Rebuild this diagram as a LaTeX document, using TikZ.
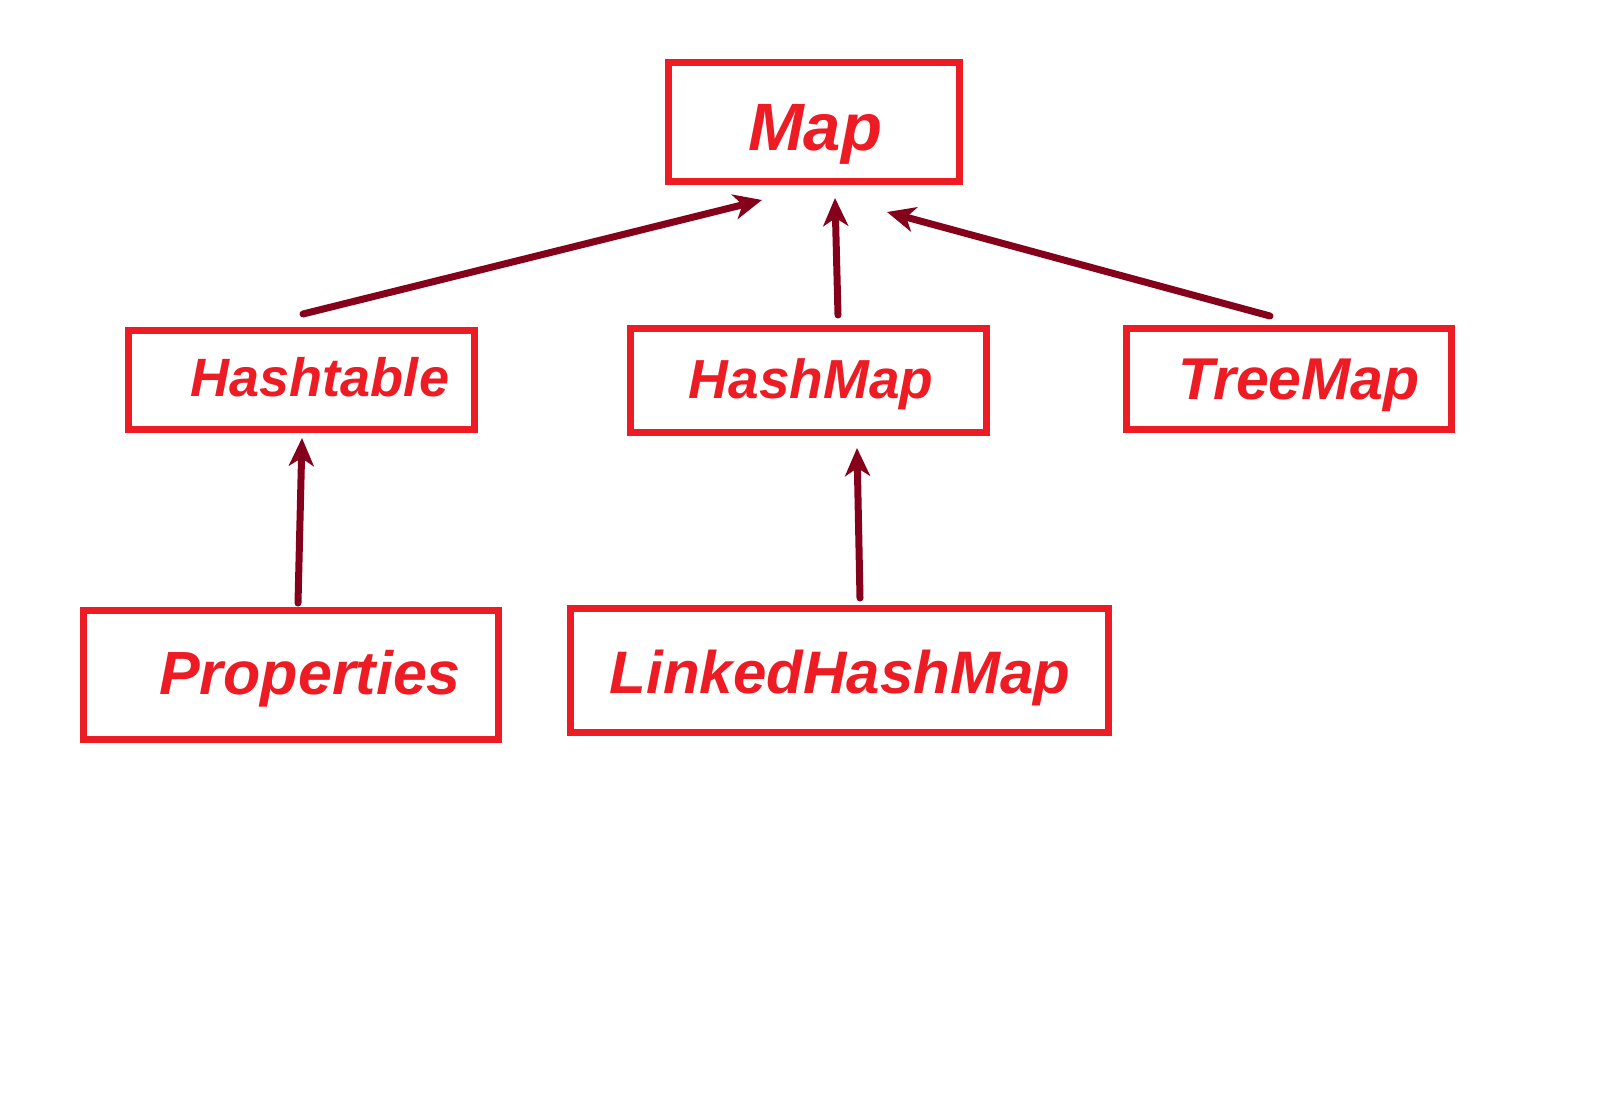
\documentclass[tikz,border=0pt]{standalone}
\usepackage{fontspec}
\setmainfont{Liberation Sans}
\usepackage{tikz}
\usetikzlibrary{arrows.meta}
\tikzset{>={Stealth[length=28pt,width=25pt,inset=8pt]}}
\definecolor{boxred}{HTML}{ED1C24}
\definecolor{arrowred}{HTML}{85001A}
\tikzset{
  cls/.style={draw=boxred, line width=7.5pt, outer sep=0pt, inner sep=0pt},
  clsname/.style={anchor=base, inner sep=0pt, text=boxred, font=\bfseries\itshape},
  inherit/.style={draw=arrowred, line width=7pt, line cap=round, ->},
}
\newcommand{\clstext}[2]{\fontsize{#1}{#1}\selectfont #2}

\begin{document}
\begin{tikzpicture}[x=1pt, y=-1pt]
    \useasboundingbox[fill=white] (0,0) rectangle (1620,1118);

    % class boxes
    \node[cls, minimum width=291pt, minimum height=119pt] (map) at (814,122) {};
    \node[cls, minimum width=346pt, minimum height=99pt] (hash) at (301.5,380) {};
    \node[cls, minimum width=356pt, minimum height=104pt] (hmap) at (808.5,380.5) {};
    \node[cls, minimum width=325pt, minimum height=101pt] (tmap) at (1289,379) {};
    \node[cls, minimum width=415pt, minimum height=129pt] (prop) at (291,675) {};
    \node[cls, minimum width=538pt, minimum height=124pt] (lhm) at (839.5,670.5) {};

    % class names
    \node[clsname] (map-t) at (815,151) {\clstext{67}{Map}};
    \node[clsname] (hash-t) at (320,396) {\clstext{54}{Hashtable}};
    \node[clsname] (hmap-t) at (811,398) {\clstext{55}{HashMap}};
    \node[clsname] (tmap-t) at (1299,399) {\clstext{59}{TreeMap}};
    \node[clsname] (prop-t) at (310,694) {\clstext{61}{Properties}};
    \node[clsname] (lhm-t) at (840,693) {\clstext{60}{LinkedHashMap}};

    % inheritance arrows
    \draw[inherit] ([shift={(1.5,-16.5)}]hash.north) -- ([shift={(-52,18.5)}]map.south);
    \draw[inherit] ([shift={(29.5,-13.5)}]hmap.north) -- ([shift={(21,16.5)}]map.south);
    \draw[inherit] ([shift={(-19,-12.5)}]tmap.north) -- ([shift={(73,30.5)}]map.south);
    \draw[inherit] ([shift={(7,-7.5)}]prop.north) -- ([shift={(0.5,8.5)}]hash.south);
    \draw[inherit] ([shift={(20.5,-10.5)}]lhm.north) -- ([shift={(48.5,15.5)}]hmap.south);
\end{tikzpicture}
\end{document}
